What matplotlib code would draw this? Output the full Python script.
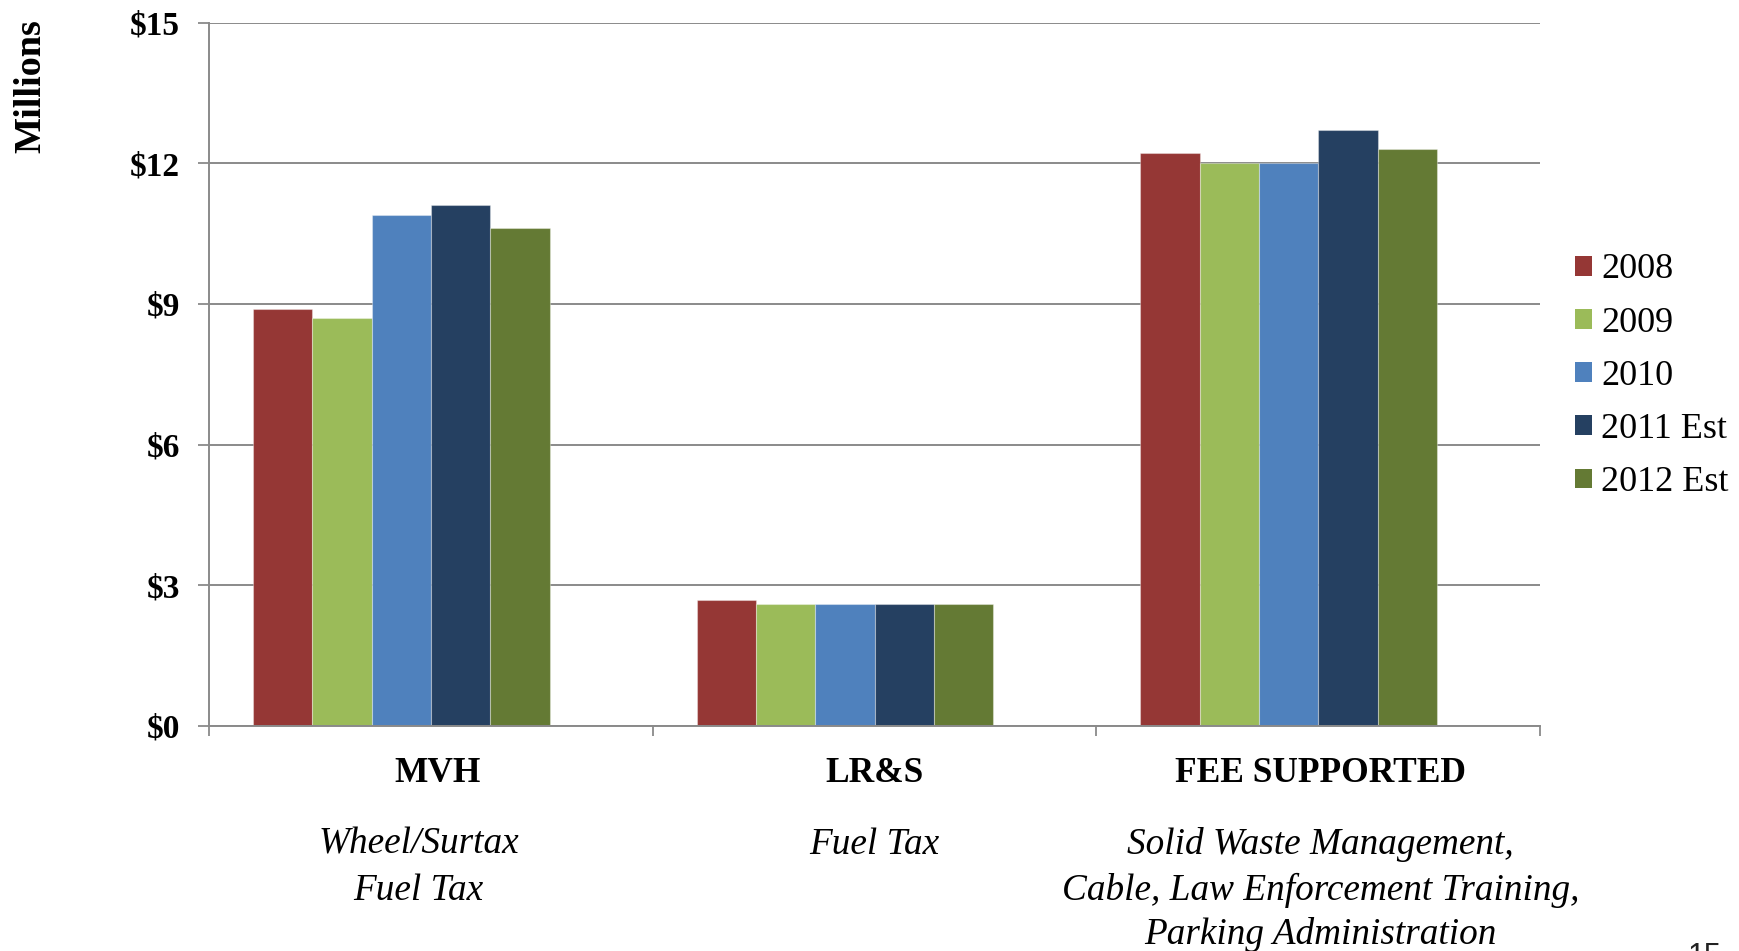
import matplotlib
matplotlib.use("Agg")
import matplotlib.pyplot as plt
from matplotlib.patches import Patch
from matplotlib.transforms import blended_transform_factory, offset_copy
import numpy as np

# ---- data -------------------------------------------------------------
categories = ["MVH", "LR&S", "FEE SUPPORTED"]
subtitles = [
    ["Wheel/Surtax", "Fuel Tax"],
    ["Fuel Tax"],
    ["Solid Waste Management,", "Cable, Law Enforcement Training,", "Parking Administration"],
]
series_names = ["2008", "2009", "2010", "2011 Est", "2012 Est"]
values_2008 = [8.9, 2.68, 12.22]
values_2009 = [8.7, 2.6, 12.0]
values_2010 = [10.9, 2.6, 12.0]
values_2011 = [11.1, 2.6, 12.7]
values_2012 = [10.62, 2.6, 12.3]
series_values = [values_2008, values_2009, values_2010, values_2011, values_2012]
y_ticks = [0, 3, 6, 9, 12, 15]
y_tick_labels = ["$0", "$3", "$6", "$9", "$12", "$15"]

# ---- style ------------------------------------------------------------
colors = ["#953735", "#9BBB59", "#4F81BD", "#254061", "#647A34"]
grid_gray = "#8a8a8a"
serif = ["Liberation Serif", "DejaVu Serif"]
plt.rcParams["font.family"] = serif

W, H, DPI = 1740, 951, 100
fig = plt.figure(figsize=(W / DPI, H / DPI), dpi=DPI)
ax = fig.add_axes([209.3 / W, 1 - 725.7 / H, (1540 - 209.3) / W, (725.7 - 22.7) / H])

x = np.arange(len(categories))
bar_w = 0.1337  # six slots per category, last one left empty
for i, (name, vals, col) in enumerate(zip(series_names, series_values, colors)):
    ax.bar(x + (i - 2.5) * bar_w, vals, width=bar_w, color=col, label=name,
           edgecolor=(1, 1, 1, 0.35), linewidth=0.8, zorder=3)

ax.set_xlim(-0.5, len(categories) - 0.5)
ax.set_ylim(0, 15)
ax.set_yticks(y_ticks)
ax.set_yticklabels(y_tick_labels, fontsize=24, fontweight="bold")
ax.yaxis.grid(True, color=grid_gray, linewidth=1.4, zorder=0)
ax.set_axisbelow(True)

ax.set_xticks(np.arange(-0.5, len(categories), 1.0))
ax.set_xticklabels([])
ax.tick_params(axis="x", direction="out", length=7.5, width=1.3, color=grid_gray)
ax.tick_params(axis="y", direction="out", length=8, width=1.3, color=grid_gray, pad=13)

for side in ["top", "right"]:
    ax.spines[side].set_visible(False)
for side in ["left", "bottom"]:
    ax.spines[side].set_color(grid_gray)
    ax.spines[side].set_linewidth(1.4)
ax.spines["bottom"].set_zorder(4)

# ---- category labels under the axis -----------------------------------
trans = blended_transform_factory(ax.transData, fig.transFigure)
title_nudge_px = [6, 0, 2]
sub_nudge_px = [-12.5, 0, 2.5]
title_baseline = 781.7
sub_baselines = [854, 899.5, 944]
for ci, (cat, subs) in enumerate(zip(categories, subtitles)):
    t = offset_copy(trans, fig=fig, x=title_nudge_px[ci] * 72 / DPI, y=0, units="points")
    ax.text(x[ci], 1 - title_baseline / H, cat, transform=t, ha="center",
            va="baseline", fontsize=25.5, fontweight="bold", clip_on=False)
    ts = offset_copy(trans, fig=fig, x=sub_nudge_px[ci] * 72 / DPI, y=0, units="points")
    for li, line in enumerate(subs):
        ax.text(x[ci], 1 - sub_baselines[li] / H, line, transform=ts, ha="center",
                va="baseline", fontsize=26.8, fontstyle="italic", clip_on=False)

# ---- axis title -------------------------------------------------------
fig.text(31 / W, 1 - 86 / H, "Millions", rotation=90, ha="center", va="center",
         fontsize=27.5, fontweight="bold")

# ---- legend -----------------------------------------------------------
handles = [Patch(facecolor=c, edgecolor="none") for c in colors]
fig.legend(handles, series_names, loc="upper left",
           bbox_to_anchor=(1575 / W, 1 - 253.5 / H), frameon=False,
           fontsize=26, handlelength=0.47, handleheight=0.47,
           handletextpad=0.26, labelspacing=0.56, borderpad=0, borderaxespad=0)

# ---- page number ------------------------------------------------------
fig.text(1705 / W, 1 - 965 / H, "15", ha="center", va="baseline", fontsize=22,
         family=["Liberation Sans", "DejaVu Sans"], color="#222222")

fig.savefig("out.png", dpi=DPI, facecolor="white")
